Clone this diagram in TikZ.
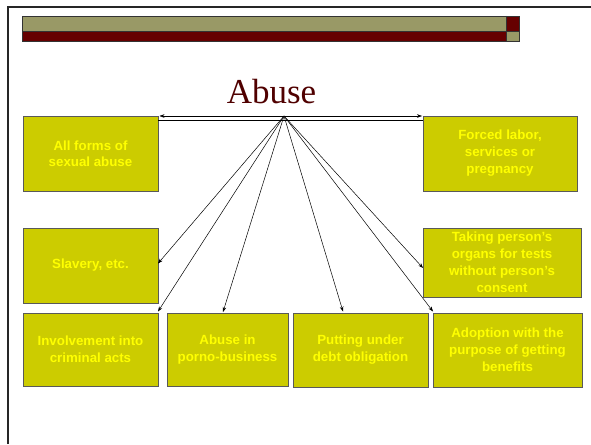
\documentclass[tikz,border=0pt]{standalone}
\usepackage{fontspec}
\setmainfont{Liberation Serif}
\setsansfont{Liberation Sans}
\usetikzlibrary{arrows.meta,calc}
\definecolor{hdrolive}{HTML}{999966}
\definecolor{hdrred}{HTML}{660000}
\definecolor{boxfill}{HTML}{CCCC00}
\definecolor{boxtext}{HTML}{FFFF00}
\definecolor{titlered}{RGB}{80,0,0}
\tikzset{
  box/.style={draw=black!65, line width=0.9pt, fill=boxfill, inner sep=0pt, outer sep=0pt,
    align=center, text=boxtext, font=\sffamily\bfseries\fontsize{13.3}{17}\selectfont},
  arr/.style={line width=0.5pt, -{Stealth[length=5pt,width=3.6pt]}},
  frameline/.style={draw=black!85, line width=2pt}
}
\begin{document}
\begin{tikzpicture}[x=1pt,y=-1pt]
\useasboundingbox (0,0) rectangle (591,444);
\fill[white] (0,0) rectangle (591,444);
% frame
\draw[frameline] (8,444) -- (8,7) -- (591,7);
% header bar
\fill[hdrolive] (22,16) rectangle (506,31);
\fill[hdrred] (22,31) rectangle (506,41);
\fill[hdrred] (506,16) rectangle (519,31);
\fill[hdrolive] (506,31) rectangle (519,41);
\draw[black!80, line width=0.6pt] (22,16) rectangle (519,41);
\draw[black!80, line width=0.6pt] (22,31) -- (519,31) (506,16) -- (506,41);
% title
\node[anchor=base, text=titlered, font=\fontsize{35}{40}\selectfont, inner sep=0pt] (title) at (271.5,103) {Abuse};
\coordinate (hub) at (284,116);
% boxes
\node[box, minimum width=135pt, minimum height=75pt, font=\sffamily\bfseries\fontsize{13.3}{15.5}\selectfont] (b1) at (90.5,153.5) {All forms of\\sexual abuse};
\node[box, minimum width=154pt, minimum height=75pt] (b2) at (500,153.5) {Forced labor,\\services or\\pregnancy};
\node[box, minimum width=158pt, minimum height=69pt] (b3) at (502,262.5) {Taking person’s\\organs for tests\\without person’s\\consent};
\node[box, minimum width=135pt, minimum height=75pt] (b4) at (90.5,265.5) {Slavery, etc.};
\node[box, minimum width=135pt, minimum height=73pt] (b5) at (90.5,349.5) {Involvement into\\criminal acts};
\node[box, minimum width=121pt, minimum height=73pt] (b6) at (227.5,349.5) {Abuse in\\porno-business};
\node[box, minimum width=135pt, minimum height=74pt] (b7) at (360.5,350) {Putting under\\debt obligation};
\node[box, minimum width=149pt, minimum height=74pt] (b8) at (507.5,350) {Adoption with the\\purpose of getting\\benefits};
% connectors
\draw[line width=0.6pt] ([yshift=-4pt]b1.north east) -- ([yshift=-4pt]b2.north west);
\draw[arr] (hub) -- ([xshift=1.5pt]b1.north east);
\draw[arr] (hub) -- ([xshift=-1pt]b2.north west);
\draw[arr] (hub) -- ([yshift=2pt]b4.east);
\draw[arr] (hub) -- ([yshift=1.5pt]b5.north east);
\draw[arr] (hub) -- ([xshift=-4.5pt,yshift=1pt]b6.north);
\draw[arr] (hub) -- ([xshift=-17.5pt,yshift=1.5pt]b7.north);
\draw[arr] (hub) -- ([yshift=1.5pt]b8.north west);
\draw[arr] (hub) -- ([yshift=-5.5pt]b3.west);
\end{tikzpicture}
\end{document}
